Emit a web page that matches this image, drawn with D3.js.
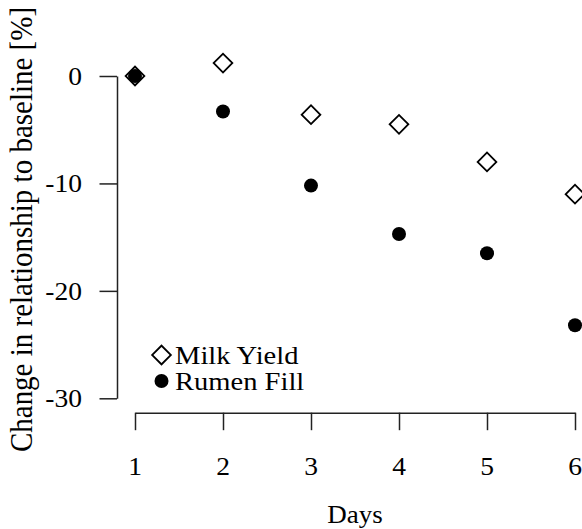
<!DOCTYPE html>
<html>
<head>
<meta charset="utf-8">
<script src="https://cdn.jsdelivr.net/npm/d3@7"></script>
</head>
<body style="margin:0;background:#fff">
<script>
// ---- data ----
const days = [1, 2, 3, 4, 5, 6];
const milkYield = [0, 1.2, -3.6, -4.5, -8.0, -11.0];
const rumenFill = [0, -3.3, -10.2, -14.7, -16.5, -23.2];
const xTicks = [1, 2, 3, 4, 5, 6];
const yTicks = [0, -10, -20, -30];
const seriesNames = ["Milk Yield", "Rumen Fill"];
const xTitle = "Days";
const yTitle = "Change in relationship to baseline [%]";

const W = 582, H = 529;
const FONT = "Liberation Serif";
const svg = d3.select("body").append("svg").attr("width", W).attr("height", H)
  .style("display", "block").attr("font-family", FONT);

const x = d3.scaleLinear().domain([1, 6]).range([135, 575]);
const y = d3.scaleLinear().domain([-30, 0]).range([398.3, 76]);
const SX = 1.08;

// y axis
svg.append("g").attr("transform", "translate(117,0)")
  .call(d3.axisLeft(y).tickValues(yTicks).tickSize(17.5).tickSizeOuter(0).tickFormat(""));
// x axis
svg.append("g").attr("transform", "translate(0,412.7)")
  .call(d3.axisBottom(x).tickValues(xTicks).tickSize(17.5).tickSizeOuter(0).tickFormat(""));
svg.selectAll(".domain, .tick line").attr("stroke", "#222").attr("stroke-width", 1.5);

// tick labels
svg.append("g").selectAll("text").data(yTicks).join("text")
  .attr("font-family", FONT).attr("font-size", 25.5).attr("fill", "#000")
  .attr("transform", d => `translate(82,${y(d)}) scale(${SX},1)`)
  .attr("dy", "0.34em").attr("text-anchor", "end")
  .text(d => d);
svg.append("g").selectAll("text").data(xTicks).join("text")
  .attr("font-family", FONT).attr("font-size", 25.5).attr("fill", "#000")
  .attr("transform", d => `translate(${x(d)},475) scale(${SX},1)`)
  .attr("text-anchor", "middle")
  .text(d => d);

// axis titles
svg.append("text")
  .attr("font-family", FONT).attr("font-size", 25).attr("fill", "#000")
  .attr("transform", `translate(355,523) scale(${SX},1)`)
  .attr("text-anchor", "middle").text(xTitle);
svg.append("text")
  .attr("font-family", FONT).attr("font-size", 29).attr("fill", "#000")
  .attr("transform", "translate(32,229.5) scale(1.1,1) rotate(-90)")
  .attr("text-anchor", "middle").text(yTitle);

// symbols
const diamond = d3.symbol().type(d3.symbolSquare).size(175);
function drawDiamond(g, cx, cy) {
  g.append("path").attr("d", diamond())
    .attr("transform", `translate(${cx},${cy}) rotate(45)`)
    .attr("fill", "#fff").attr("stroke", "#000").attr("stroke-width", 1.8);
}

const gm = svg.append("g");
days.forEach((d, i) => drawDiamond(gm, x(d), y(milkYield[i])));
svg.append("g").selectAll("circle").data(days).join("circle")
  .attr("cx", d => x(d)).attr("cy", (d, i) => y(rumenFill[i]))
  .attr("r", 7).attr("fill", "#000");

// legend
const lg = svg.append("g");
drawDiamond(lg, 161.5, 355);
lg.append("circle").attr("cx", 161.5).attr("cy", 381).attr("r", 7).attr("fill", "#000");
lg.selectAll("text").data(seriesNames).join("text")
  .attr("font-family", FONT).attr("font-size", 25.5).attr("fill", "#000")
  .attr("transform", (d, i) => `translate(175,${364 + i * 26}) scale(1.12,1)`)
  .text(d => d);
</script>
</body>
</html>
